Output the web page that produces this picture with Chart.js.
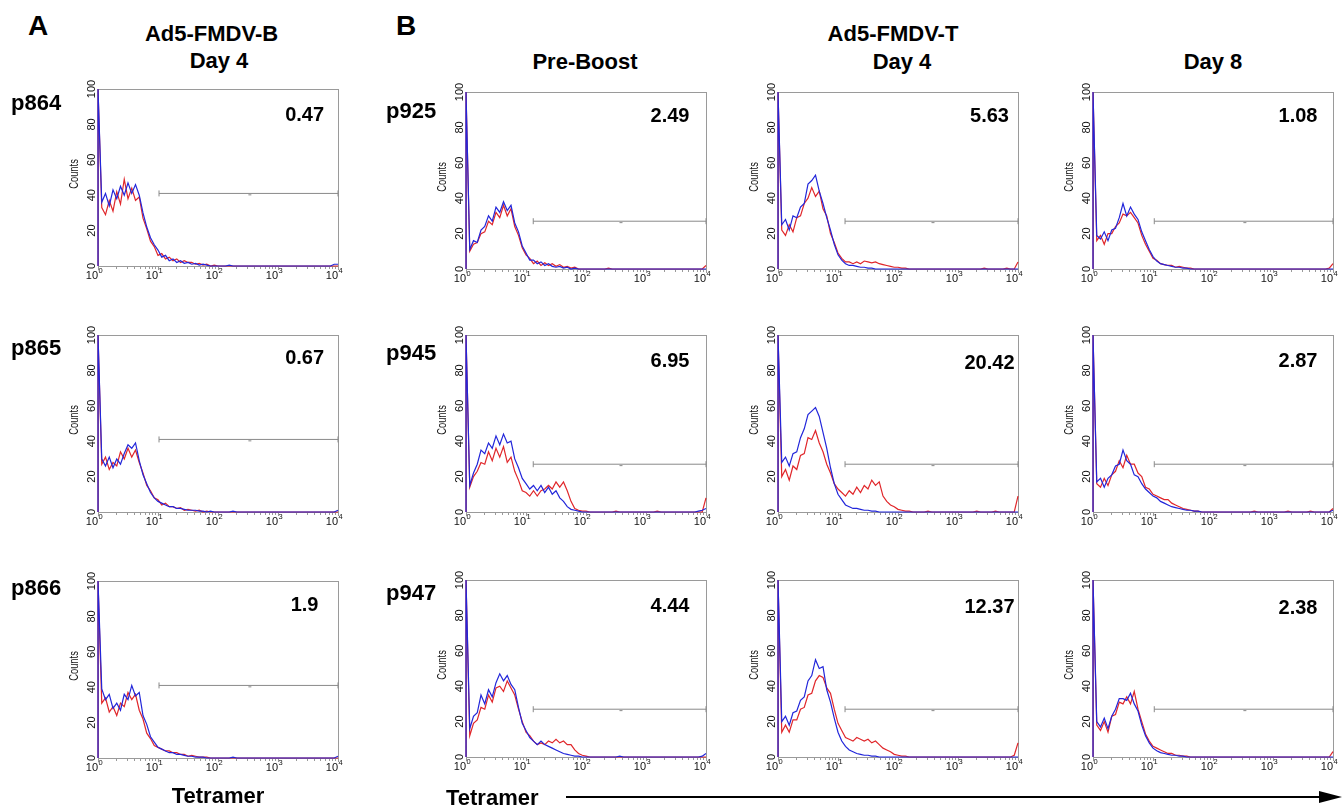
<!DOCTYPE html>
<html>
<head>
<meta charset="utf-8">
<script src="https://cdn.jsdelivr.net/npm/chart.js@4.4.1/dist/chart.umd.min.js"></script>
<style>
  html, body { margin: 0; padding: 0; background: #fff; }
  #fig { position: relative; width: 1344px; height: 808px; overflow: hidden;
         font-family: "Liberation Sans", Arial, Helvetica, sans-serif; color: #000; }
  .t { position: absolute; font-weight: bold; line-height: 1; white-space: nowrap; }
  canvas { position: absolute; }
  svg { position: absolute; left: 0; top: 0; }
</style>
</head>
<body>
<div id="fig">
  <svg width="1344" height="808">
    <line x1="566" y1="797" x2="1322" y2="797" stroke="#000" stroke-width="2"/>
    <polygon points="1319,791 1342,797 1319,803" fill="#000"/>
  </svg>
</div>
<script>
// ---- Histogram channels (4-decade log amplifier, 64 channels per decade) ----
const CHANNELS = [0,4,8,12,16,20,24,28,32,36,40,44,48,52,56,60,
                  64,68,72,76,80,84,88,92,96,100,104,108,112,116,120,124,
                  128,132,136,140,144,148,152,156,160,164,168,172,176,180,184,188,
                  192,196,200,204,208,212,216,220,224,228,232,236,240,244,248,252,256];
const X_TICK_EXPONENTS = [0, 1, 2, 3, 4];
const Y_TICKS = [0, 20, 40, 60, 80, 100];

// ---- Panel labels ----
const COLUMN_TITLES = ['Day 4', 'Pre-Boost', 'Day 4', 'Day 8'];
const ANIMALS_B = ['p864', 'p865', 'p866'];
const ANIMALS_T = ['p925', 'p945', 'p947'];
const GATE_PERCENT = [
  ['0.47', '2.49', '5.63', '1.08'],
  ['0.67', '6.95', '20.42', '2.87'],
  ['1.9', '4.44', '12.37', '2.38']
];

// ---- Gate marker (per column) ----
const GATE_START = [10.4, 13.2, 13.1, 10.5];
const GATE_LEVEL = [41, 27, 27, 27];
const GATE_MID = [340, 383, 383, 340];

// ---- Counts per channel: ctrl = blue trace, tet = red trace ----
// Ad5-FMDV-B, Day 4
const ctrl_p864 = [100,36,41,34,43,38,45,40,47,41,46,40,30,22,16,12,
  9,5,6,3,4,2,3,1.5,2,1,1.5,0.5,1,0.5,0,0,
  0,0,0,0.5,0,0,0,0,0,0,0,0,0,0,0,0,
  0,0,0,0,0,0,0,0,0,0,0,0,0,0,0,1,1];
const tet_p864 = [100,33,29,37,31,42,35,49,38,44,37,39,27,21,14,11,
  6,7,4,5,3,4,2,3,2,2,1,1.5,0.5,1,0,0.5,
  0,0,0,0,0,0,0,0,0,0,0,0,0,0,0,0,
  0,0,0,0,0,0,0,0,0,0,0,0,0,0,0,0,0];
const ctrl_p865 = [100,30,26,31,25,30,27,33,38,36,39,29,21,16,11,8,
  6,5,4,3,3,2,2,1.5,1,1,1,0.5,0.5,0,0.5,0,
  0,0,0,0,0.5,0,0,0,0,0,0,0,0,0,0,0,
  0,0,0,0,0,0,0,0,0,0,0,0,0,0,0,0,1];
const tet_p865 = [100,27,31,24,28,26,34,30,36,31,35,28,22,15,12,8,
  7,4,5,3,3,2,2.5,1,1.5,1,0.5,1,0,0.5,0,0,
  0,0,0,0,0,0,0,0,0,0,0,0,0,0,0,0,
  0,0,0,0,0,0,0,0,0,0,0,0,0,0,0,0,0];
const ctrl_p866 = [100,39,33,36,28,31,27,36,33,41,35,37,24,19,12,9,
  6,5,4,3,3,2,2,1.5,1,1,0.5,0.5,0.5,0,0,0,
  0,0,0,0,0.5,0,0,0,0,0,0,0,0,0,0,0,
  0,0,0,0,0,0,0,0,0,0,0,0,0,0,0,0,1];
const tet_p866 = [100,31,34,26,29,24,31,29,37,33,36,27,22,14,11,7,
  6,5,4,4,3,3,2,2,1,1.5,1,0.5,0.5,0.5,0,0,
  0,0,0,0,0,0,0,0,0,0,0,0,0,0,0,0,
  0,0,0,0,0,0,0,0,0,0,0,0,0,0,0,0,0];

// Ad5-FMDV-T, Pre-Boost
const ctrl_p925_pre = [100,11,16,15,22,24,30,27,35,32,38,33,36,26,21,13,
  9,5,5,3,4,2,3,1.5,1,1.5,0.5,1,0,0.5,0,0,
  0,0,0,0,0,0,0,0,0,0,0,0,0,0,0,0,
  0,0,0,0,0,0,0,0,0,0,0,0,0,0,0,0,0];
const tet_p925_pre = [100,10,14,15,20,21,27,25,32,29,36,30,34,24,19,12,
  8,6,3,4.5,2,3.5,2,3,1.5,2.5,1,1.5,0.5,1,0,0,
  0,0,0,0,0,0,0.5,0,0,0,0,0,0,0,0,0,
  0,0,0,0,0,0,0,0,0,0,0,0,0,0,0,0,2];
const ctrl_p945_pre = [100,15,22,27,35,33,39,36,43,38,44,39,40,30,25,19,
  16,13,15,12,15,11,14,10,12,8,6,3,1.5,1,0.5,0,
  0,0,0,0,0,0,0,0,0,0,0,0,0,0,0,0,
  0,0,0,0,0,0,0,0,0,0,0,0,0,0,0.5,1,2];
const tet_p945_pre = [100,14,20,23,28,27,34,29,36,31,37,28,31,23,18,12,
  11,9,12,9,12,13,15,13,17,14,17,12,6,2,1,0.5,
  0.5,0,0,0,0,0,0,0,0.5,0,0,0,0,0,0,0,
  0,0,0,0.5,0,0,0,0,0,0,0,0,0,0,0,0,8];
const ctrl_p947_pre = [100,16,23,25,35,30,38,34,42,47,43,46,41,38,28,19,
  15,11,9,7,9,7,6,5,4,3,2,1.5,1,0.5,0.5,0,
  0,0,0,0,0,0,0,0,0,0.5,0,0,0,0,0,0,
  0,0,0,0,0,0,0,0,0,0,0,0,0,0,0,0.5,2];
const tet_p947_pre = [100,12,19,21,28,27,35,31,39,40,37,43,39,35,27,20,
  14,12,9,7,8,7,9,8,10,8,9,7,7,4,2,1,
  0.5,0,0,0,0,0,0,0,0,0,0,0,0,0,0,0,
  0,0,0,0,0,0,0,0,0,0,0,0,0,0,0,0,0];

// Ad5-FMDV-T, Day 4
const ctrl_p925_d4 = [100,25,28,22,30,29,35,37,48,50,53,44,37,29,22,14,
  8,5,3,2,2,1.5,1,1,0.5,0.5,0,0,0,0,0,0,
  0,0,0,0,0,0,0,0,0,0,0,0,0,0,0,0,
  0,0,0,0,0,0,0,0,0,0,0,0,0,0,0,0,0];
const tet_p925_d4 = [100,22,19,25,21,29,30,37,40,46,41,44,34,30,20,15,
  9,6,4,4,3,4,3,4.5,4,3.5,4,3,2.5,2,1.5,1,
  1,0.5,0.5,0,0,0,0,0,0,0,0,0,0,0,0,0,
  0,0,0,0,0,0,0,0.5,0,0,0,0,0,0.5,0,0,4];
const ctrl_p945_d4 = [100,28,31,26,33,34,42,47,55,57,59,54,45,36,25,16,
  10,7,4,3,2,2,1.5,1,1,0.5,0.5,0,0,0,0,0,
  0,0,0,0,0,0,0,0,0,0,0,0,0,0,0,0,
  0,0,0,0,0,0,0,0,0,0,0,0,0,0,0,0,0];
const tet_p945_d4 = [100,20,24,18,26,24,32,33,42,41,46,39,34,27,22,16,
  13,11,9,12,10,14,11,15,13,18,15,17,9,6,4,3,
  1.5,1,0.5,0.5,0,0,0,0,0.5,0,0,0,0,0,0,0,
  0,0,0,0,0,0.5,0,0,0,0,0.5,0,0,0,0,0,9];
const ctrl_p947_d4 = [100,20,23,18,25,26,32,34,43,46,55,50,51,38,31,22,
  14,9,6,4,3,2,1.5,1,1,0.5,0.5,0,0,0,0,0,
  0,0,0,0,0,0,0,0,0,0,0,0,0,0,0,0,
  0,0,0,0,0,0,0,0,0,0,0,0,0,0,0,0,0];
const tet_p947_d4 = [100,14,18,14,21,21,27,28,35,36,43,46,45,39,36,27,
  19,15,11,10,9,11,10,9,10,8,9,7,5,4,3,1.5,
  1,0.5,0.5,0,0,0,0,0,0,0,0,0,0,0,0,0,
  0,0,0,0,0,0,0,0,0,0,0,0,0,0,0,1,8];

// Ad5-FMDV-T, Day 8
const ctrl_p925_d8 = [100,19,17,21,16,22,23,29,37,30,35,31,28,21,16,11,
  7,4.5,3,2.5,2,1.5,1,1,0.5,0.5,0,0,0,0,0,0,
  0,0,0,0,0,0,0,0,0,0,0,0,0,0,0,0,
  0,0,0,0,0,0,0,0,0,0,0,0,0,0,0,0,0];
const tet_p925_d8 = [100,16,19,14,20,20,24,26,31,30,32,29,26,19,14,10,
  6,5,3,2.5,2,2,1,1.5,1,0.5,0.5,0,0,0,0,0,
  0,0,0,0,0,0,0,0,0,0,0,0,0,0,0,0,
  0,0,0,0,0,0,0,0,0,0,0,0,0,0,0,0.5,3];
const ctrl_p945_d8 = [100,17,19,14,19,21,26,27,35,29,27,21,20,16,13,11,
  9,8,6,5,4,3,2.5,2,1.5,1,1,0.5,0.5,0,0,0,
  0,0,0,0,0,0,0,0,0,0,0,0,0,0,0,0,
  0,0,0,0,0,0,0,0,0,0,0,0,0,0,0,0,1];
const tet_p945_d8 = [100,16,14,19,15,21,23,29,25,32,27,27,22,20,14,13,
  10,9,8,7,7,5,4,3,2,1.5,1,0.5,0.5,0,0,0,
  0,0,0,0,0,0,0,0,0,0,0,0.5,0,0,0,0,
  0,0,0,0,0.5,0,0,0,0,0,0.5,0,0,0,0,0,2];
const ctrl_p947_d8 = [100,20,17,22,16,23,27,33,33,32,36,30,26,18,12,8,
  5,3.5,2.5,2,1.5,1,1,0.5,0.5,0,0,0,0,0,0,0,
  0,0,0,0,0,0,0,0,0,0,0,0,0,0,0,0,
  0,0,0,0,0,0,0,0,0,0,0,0,0,0,0,0,0];
const tet_p947_d8 = [100,18,15,20,14,23,24,31,30,34,30,37,27,20,13,9,
  6,5,4,3,2,2,1,1,0.5,0.5,0,0,0,0,0,0,
  0,0,0,0,0,0,0,0,0,0,0,0,0,0,0,0,
  0,0,0,0,0,0,0,0,0,0,0,0,0,0,0,0,3];

// panel grid: [row][column] -> [ctrl, tet]
const PANEL_SERIES = [
  [[ctrl_p864, tet_p864], [ctrl_p925_pre, tet_p925_pre], [ctrl_p925_d4, tet_p925_d4], [ctrl_p925_d8, tet_p925_d8]],
  [[ctrl_p865, tet_p865], [ctrl_p945_pre, tet_p945_pre], [ctrl_p945_d4, tet_p945_d4], [ctrl_p945_d8, tet_p945_d8]],
  [[ctrl_p866, tet_p866], [ctrl_p947_pre, tet_p947_pre], [ctrl_p947_d4, tet_p947_d4], [ctrl_p947_d8, tet_p947_d8]]
];

// ---- Layout ----
const PLOT_W = 240, PLOT_H = 177;
const COL_LEFT = [98, 466, 778, 1093];
const ROW_TOP = [[89, 335, 581], [92, 335, 580], [92, 335, 580], [92, 335, 580]];
const LABEL_CX = [304.6, 670, 989.5, 1298];
const LABEL_CAP = [[107, 350, 597], [108, 353, 598], [108, 355, 599], [108, 353, 600]];
const PAD = { left: 50, right: 12, top: 12, bottom: 26 };
const BLUE = '#2226da', RED = '#e0262a', FRAME = '#9a9a9a', GATE = '#8a8a8a';
const TICK_FONT = '"Liberation Sans", Arial, Helvetica, sans-serif';

const fig = document.getElementById('fig');

PANEL_SERIES.flat(2).forEach((arr, k) => {
  if (arr.length !== CHANNELS.length) throw new Error('series ' + k + ' has ' + arr.length + ' values');
});

function addText(str, size, capTop, x, align) {
  const d = document.createElement('div');
  d.className = 't';
  d.textContent = str;
  d.style.fontSize = size + 'px';
  d.style.top = (capTop - 0.1305 * size) + 'px';
  if (align === 'center') {
    d.style.left = (x - 300) + 'px';
    d.style.width = '600px';
    d.style.textAlign = 'center';
  } else {
    d.style.left = x + 'px';
  }
  fig.appendChild(d);
}

// histogram outline: starts on the baseline at the first channel
function outline(values) {
  return [{ x: 1, y: 0 }].concat(CHANNELS.map((ch, i) => ({ x: Math.pow(10, ch / 64), y: values[i] })));
}

const flowAxes = {
  id: 'flowAxes',
  beforeDatasetsDraw(chart) {
    const { ctx, chartArea: a } = chart;
    ctx.save();
    ctx.strokeStyle = FRAME;
    ctx.lineWidth = 1;
    ctx.strokeRect(a.left + 0.5, a.top + 0.5, a.right - a.left, a.bottom - a.top);
    ctx.restore();
  },
  afterDraw(chart) {
    const { ctx, chartArea: a, scales } = chart;
    const xs = scales.x, ys = scales.y;
    ctx.save();
    // log ticks
    ctx.strokeStyle = FRAME;
    ctx.lineWidth = 1;
    ctx.beginPath();
    X_TICK_EXPONENTS.forEach(e => {
      for (let m = 1; m <= 9; m++) {
        const v = m * Math.pow(10, e);
        if (v > 10000) break;
        const px = Math.round(xs.getPixelForValue(v)) + 0.5;
        const len = m === 1 ? 3 : 2;
        ctx.moveTo(px, a.bottom + 1);
        ctx.lineTo(px, a.bottom + 1 + len);
      }
    });
    ctx.stroke();
    // x labels 10^n
    ctx.fillStyle = '#111';
    X_TICK_EXPONENTS.forEach(e => {
      const px = xs.getPixelForValue(Math.pow(10, e));
      ctx.font = '11px ' + TICK_FONT;
      ctx.textAlign = 'right';
      ctx.textBaseline = 'alphabetic';
      ctx.fillText('10', px, a.bottom + 12.5);
      ctx.font = '7.5px ' + TICK_FONT;
      ctx.textAlign = 'left';
      ctx.fillText(String(e), px + 0.5, a.bottom + 7);
    });
    // y labels, rotated
    ctx.font = '11px ' + TICK_FONT;
    ctx.textAlign = 'center';
    Y_TICKS.forEach(v => {
      const py = ys.getPixelForValue(v);
      ctx.save();
      ctx.translate(a.left - 3, py);
      ctx.rotate(-Math.PI / 2);
      ctx.fillText(String(v), 0, 0);
      ctx.restore();
    });
    // axis title (condensed)
    ctx.save();
    ctx.font = '13px ' + TICK_FONT;
    ctx.translate(a.left - 20, a.top + 85);
    ctx.rotate(-Math.PI / 2);
    ctx.scale(0.72, 1);
    ctx.fillText('Counts', 0, 0);
    ctx.restore();
    ctx.restore();
  }
};

function makePanel(col, row) {
  const left = COL_LEFT[col], top = ROW_TOP[col][row];
  const [ctrl, tet] = PANEL_SERIES[row][col];
  const W = PLOT_W + PAD.left + PAD.right, H = PLOT_H + PAD.top + PAD.bottom;
  const cv = document.createElement('canvas');
  cv.width = W; cv.height = H;
  cv.style.left = (left - PAD.left) + 'px';
  cv.style.top = (top - PAD.top) + 'px';
  cv.style.width = W + 'px';
  cv.style.height = H + 'px';
  fig.appendChild(cv);

  new Chart(cv, {
    type: 'line',
    data: {
      datasets: [
        { data: outline(ctrl), borderColor: BLUE, borderWidth: 1.2, pointRadius: 0, tension: 0, clip: 2 },
        { data: outline(tet), borderColor: RED, borderWidth: 1.2, pointRadius: 0, tension: 0, clip: 2 },
        { data: [{ x: GATE_MID[col], y: GATE_LEVEL[col] - 0.8 }], showLine: false,
          pointStyle: 'line', pointRadius: 1.5, pointBorderColor: GATE, pointBorderWidth: 1, clip: 4 },
        { data: [{ x: GATE_START[col], y: GATE_LEVEL[col] }, { x: 10000, y: GATE_LEVEL[col] }],
          borderColor: GATE, borderWidth: 1, pointStyle: 'line', pointRotation: 90, pointRadius: 3,
          pointBorderColor: GATE, pointBorderWidth: 1, tension: 0, clip: 4 }
      ]
    },
    options: {
      responsive: false,
      animation: false,
      devicePixelRatio: 1,
      layout: { padding: PAD },
      plugins: { legend: { display: false }, tooltip: { enabled: false } },
      events: [],
      scales: {
        x: { type: 'logarithmic', min: 1, max: 10000, display: false },
        y: { type: 'linear', min: 0, max: 100, display: false }
      }
    },
    plugins: [flowAxes]
  });

  addText(GATE_PERCENT[row][col], 20, LABEL_CAP[col][row], LABEL_CX[col], 'center');
}

for (let c = 0; c < 4; c++) for (let r = 0; r < 3; r++) makePanel(c, r);

// panel letters and headings
addText('A', 28, 16, 28);
addText('B', 28, 16, 396);
addText('Ad5-FMDV-B', 22, 26, 211.5, 'center');
addText(COLUMN_TITLES[0], 22, 53, 219, 'center');
addText('Ad5-FMDV-T', 22, 26, 893, 'center');
addText(COLUMN_TITLES[1], 22, 54, 585, 'center');
addText(COLUMN_TITLES[2], 22, 54, 902, 'center');
addText(COLUMN_TITLES[3], 22, 54, 1213, 'center');

// animal IDs
const ID_CAP_B = [95, 340, 580];
const ID_CAP_T = [103, 345, 585];
ANIMALS_B.forEach((id, r) => addText(id, 22, ID_CAP_B[r], 11));
ANIMALS_T.forEach((id, r) => addText(id, 22, ID_CAP_T[r], 386));

// x-axis captions
addText('Tetramer', 22, 788, 218, 'center');
addText('Tetramer', 22, 790, 446);
</script>
</body>
</html>
